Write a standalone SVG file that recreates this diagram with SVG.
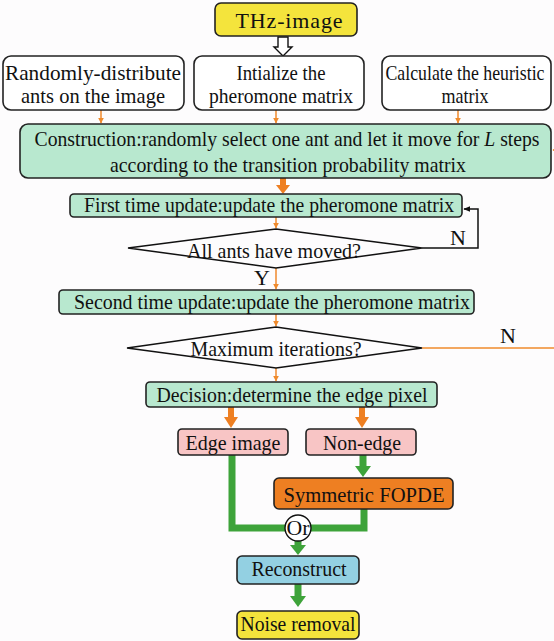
<svg xmlns="http://www.w3.org/2000/svg" width="554" height="641" viewBox="0 0 554 641">
<defs>
<style>
.t{font-family:"Liberation Serif","Times New Roman",serif;font-size:22px;fill:#111;text-anchor:middle}
.box{stroke:#222;stroke-width:1.6}
.white{fill:#fff}
.green{fill:#b8e8cf}
.yellow{fill:#f4e43c}
.pink{fill:#f8c5c5}
.orange{fill:#ee7f22}
.blue{fill:#93d0e2}
.oline{stroke:#ef8a2c;stroke-width:1.5;fill:none}
.othick{stroke:#ee7f22;stroke-width:6;fill:none}
.gthick{stroke:#3ea33a;stroke-width:7;fill:none}
.kline{stroke:#111;stroke-width:1.5;fill:none}
</style>
<marker id="oa" viewBox="0 0 10 10" refX="9" refY="5" markerWidth="6" markerHeight="6" markerUnits="userSpaceOnUse" orient="auto"><path d="M0 0L10 5L0 10z" fill="#ef8a2c"/></marker>
<marker id="ka" viewBox="0 0 10 10" refX="9" refY="5" markerWidth="7" markerHeight="7" markerUnits="userSpaceOnUse" orient="auto"><path d="M0 1L10 5L0 9z" fill="#111"/></marker>
</defs>
<rect width="554" height="641" fill="#fdfcfd"/>

<g id="connectors">
<path d="M278 37V47H274L283 56L292 47H288V37Z" fill="#fff" stroke="#111" stroke-width="1.4"/>
<line class="oline" x1="101" y1="110" x2="101" y2="123" marker-end="url(#oa)"/>
<line class="oline" x1="276" y1="110" x2="276" y2="123" marker-end="url(#oa)"/>
<line class="oline" x1="458" y1="110" x2="458" y2="123" marker-end="url(#oa)"/>
<path d="M283 178V186" class="othick"/><path d="M276 185H290L283 194Z" fill="#ee7f22"/>
<line class="oline" x1="276" y1="217" x2="276" y2="228" marker-end="url(#oa)"/>
<path class="kline" d="M422 248H478V209H464" marker-end="url(#ka)"/>
<line class="oline" x1="276" y1="268" x2="276" y2="289" marker-end="url(#oa)"/>
<line class="oline" x1="276" y1="314" x2="276" y2="326" marker-end="url(#oa)"/>
<path class="oline" d="M422 348H558V150H553" marker-end="url(#oa)"/>
<line class="oline" x1="276" y1="368" x2="276" y2="381" marker-end="url(#oa)"/>
<path d="M231 407V418" class="othick"/><path d="M224 417H238L231 428Z" fill="#ee7f22"/>
<path d="M362 407V418" class="othick"/><path d="M355 417H369L362 428Z" fill="#ee7f22"/>
<path d="M363 455V467" class="gthick"/><path d="M355 466H371L363 477Z" fill="#3ea33a"/>
<path class="gthick" d="M232 455V528H285"/>
<path class="gthick" d="M364 509V528H311"/>
<path d="M298 541V546" class="gthick"/><path d="M290 545H306L298 555Z" fill="#3ea33a"/>
<path d="M298 584V597" class="gthick"/><path d="M290 596H306L298 607Z" fill="#3ea33a"/>
</g>

<g id="thz"><rect class="box yellow" x="215" y="3" width="142" height="33" rx="6"/><text class="t" x="289" y="28" textLength="107" lengthAdjust="spacing">THz-image</text></g>

<g id="random"><rect class="box white" x="3" y="56" width="181" height="54" rx="8"/><text class="t" x="93" y="80" textLength="176" lengthAdjust="spacingAndGlyphs">Randomly-distribute</text><text class="t" x="93" y="103" textLength="144" lengthAdjust="spacingAndGlyphs">ants on the image</text></g>

<g id="init"><rect class="box white" x="194" y="56" width="170" height="54" rx="8"/><text class="t" x="281" y="80" textLength="89" lengthAdjust="spacingAndGlyphs">Intialize the</text><text class="t" x="281" y="103" textLength="144" lengthAdjust="spacingAndGlyphs">pheromone matrix</text></g>

<g id="heur"><rect class="box white" x="382" y="56" width="169" height="54" rx="8"/><text class="t" x="465" y="80" textLength="159" lengthAdjust="spacingAndGlyphs">Calculate the heuristic</text><text class="t" x="465" y="103" textLength="47" lengthAdjust="spacingAndGlyphs">matrix</text></g>

<g id="construct"><rect class="box green" x="20" y="124" width="531" height="54" rx="8"/><text class="t" x="287" y="146" textLength="505" lengthAdjust="spacingAndGlyphs">Construction:randomly select one ant and let it move for <tspan font-style="italic">L</tspan> steps</text><text class="t" x="288" y="172" textLength="356" lengthAdjust="spacingAndGlyphs">according to the transition probability matrix</text></g>

<g id="first"><rect class="box green" x="70" y="194" width="392" height="23" rx="4"/><text class="t" x="269" y="212" textLength="370" lengthAdjust="spacingAndGlyphs">First time update:update the pheromone matrix</text></g>

<g id="allants"><polygon class="kline" fill="#fff" points="128,248 276,229 422,248 276,268"/><text class="t" x="274" y="258" textLength="174" lengthAdjust="spacingAndGlyphs">All ants have moved?</text><text class="t" x="458" y="245">N</text><text class="t" x="262" y="285">Y</text></g>

<g id="second"><rect class="box green" x="59" y="290" width="415" height="24" rx="4"/><text class="t" x="272" y="309" textLength="396" lengthAdjust="spacingAndGlyphs">Second time update:update the pheromone matrix</text></g>

<g id="maxit"><polygon class="kline" fill="#fff" points="127,348 276,327 422,348 276,368"/><text class="t" x="276" y="356" textLength="171" lengthAdjust="spacingAndGlyphs">Maximum iterations?</text><text class="t" x="508" y="343">N</text></g>

<g id="decision"><rect class="box green" x="146" y="382" width="291" height="25" rx="4"/><text class="t" x="292" y="402" textLength="271" lengthAdjust="spacingAndGlyphs">Decision:determine the edge pixel</text></g>

<g id="edge"><rect class="box pink" x="178" y="429" width="110" height="26" rx="4"/><text class="t" x="233" y="450" textLength="95" lengthAdjust="spacingAndGlyphs">Edge image</text></g>

<g id="nonedge"><rect class="box pink" x="306" y="429" width="110" height="26" rx="4"/><text class="t" x="362" y="450" textLength="78" lengthAdjust="spacingAndGlyphs">Non-edge</text></g>

<g id="fopde"><rect class="box orange" x="274" y="478" width="179" height="31" rx="5"/><text class="t" x="364" y="502" textLength="161" lengthAdjust="spacingAndGlyphs">Symmetric FOPDE</text></g>

<g id="or"><circle cx="298" cy="528" r="13" fill="#fff" stroke="#111" stroke-width="1.4"/><text class="t" x="298" y="535" font-size="20" textLength="23" lengthAdjust="spacingAndGlyphs">Or</text></g>

<g id="recon"><rect class="box blue" x="237" y="556" width="122" height="28" rx="5"/><text class="t" x="299" y="576" textLength="95" lengthAdjust="spacingAndGlyphs">Reconstruct</text></g>

<g id="noise"><rect class="box yellow" x="237" y="611" width="122" height="28" rx="5"/><text class="t" x="298" y="631" textLength="115" lengthAdjust="spacingAndGlyphs">Noise removal</text></g>
</svg>
